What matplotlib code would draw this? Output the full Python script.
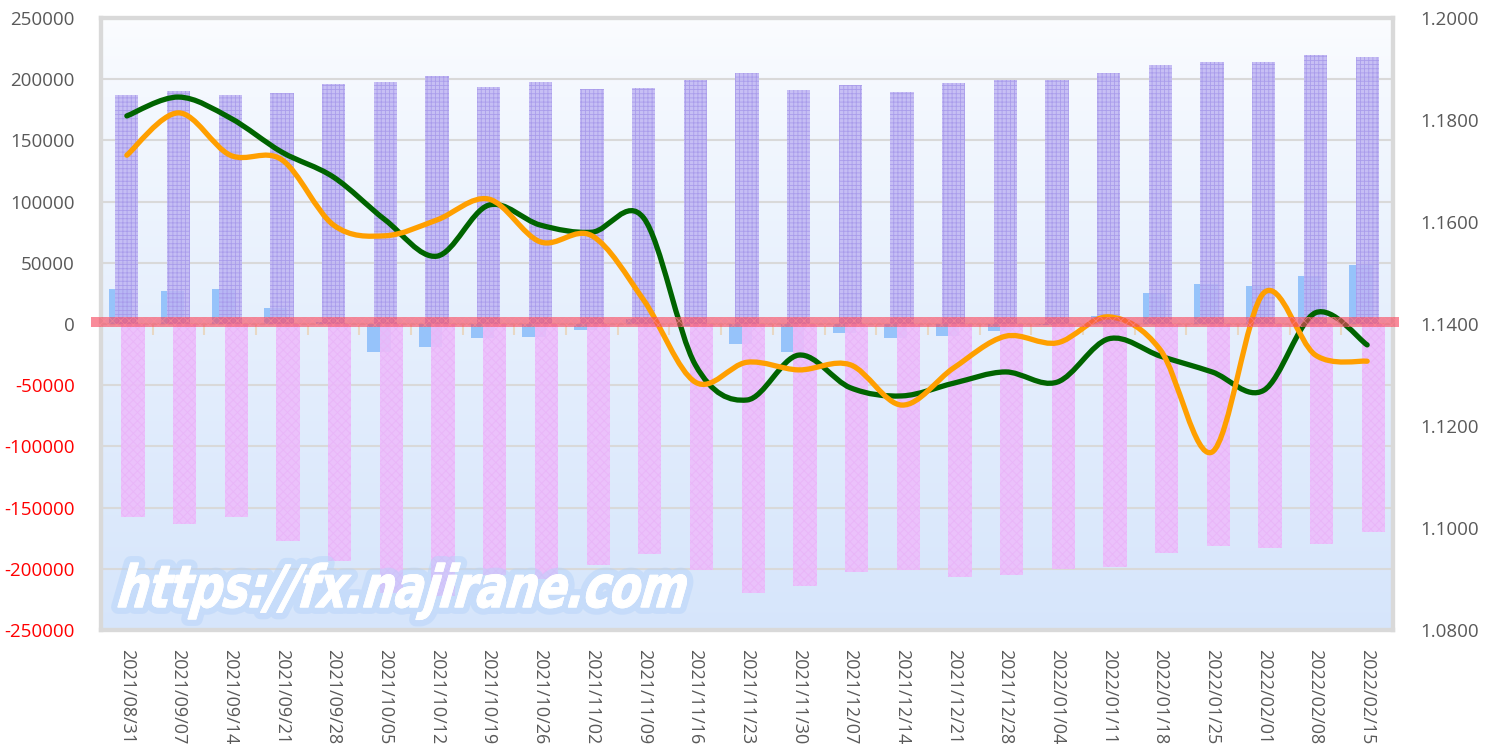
import matplotlib
matplotlib.use('Agg')
import matplotlib.pyplot as plt
import numpy as np
from matplotlib.path import Path
from matplotlib.patches import PathPatch, Rectangle
from matplotlib.transforms import blended_transform_factory, Affine2D, IdentityTransform
from matplotlib.textpath import TextPath
from matplotlib.font_manager import FontProperties
import matplotlib.patheffects as pe

plt.rcParams['font.family'] = ['Open Sans', 'DejaVu Sans']
plt.rcParams['hatch.linewidth'] = 0.6

# weekly dates
dates = ['2021/08/31', '2021/09/07', '2021/09/14', '2021/09/21', '2021/09/28',
         '2021/10/05', '2021/10/12', '2021/10/19', '2021/10/26', '2021/11/02',
         '2021/11/09', '2021/11/16', '2021/11/23', '2021/11/30', '2021/12/07',
         '2021/12/14', '2021/12/21', '2021/12/28', '2022/01/04', '2022/01/11',
         '2022/01/18', '2022/01/25', '2022/02/01', '2022/02/08', '2022/02/15']

# positions (left axis)
long_pos = [187000, 190000, 187000, 189000, 196000, 197500, 203000, 193500, 197500, 192000,
            193000, 199000, 205000, 191000, 195000, 189500, 197000, 199000, 199500, 205000,
            212000, 214000, 214000, 219500, 218500]
short_pos = [-158000, -163000, -158000, -177000, -194000, -220000, -222000, -205000, -208000, -197000,
             -188000, -201000, -220000, -214000, -202500, -201000, -206500, -205000, -200000, -198500,
             -187000, -181000, -183000, -180000, -170000]
net_pos = [29000, 27000, 29000, 13000, 2000, -23000, -19000, -11500, -10500, -5000,
           4000, -2000, -16000, -23000, -7500, -11500, -10000, -6000, -500, 6500,
           25000, 33000, 31000, 39500, 48500]

# rates (right axis)
green_rate = [1.1808, 1.1845, 1.1804, 1.1737, 1.1688, 1.1604, 1.1533, 1.1633, 1.1594, 1.1580,
              1.1608, 1.1320, 1.1251, 1.1339, 1.1275, 1.1259, 1.1284, 1.1306, 1.1286, 1.1371,
              1.1337, 1.1306, 1.1270, 1.1422, 1.1359]
orange_rate = [1.1731, 1.1814, 1.1731, 1.1722, 1.1594, 1.1573, 1.1604, 1.1645, 1.1561, 1.1573,
               1.1447, 1.1286, 1.1325, 1.1310, 1.1320, 1.1241, 1.1314, 1.1376, 1.1363, 1.1414,
               1.1349, 1.1149, 1.1461, 1.1339, 1.1327]

left_ticks = np.arange(-250000, 250001, 50000)
right_ticks = np.arange(1.08, 1.2001, 0.02)


def smooth_path(xs, ys):
    # Excel-like smoothed line: Catmull-Rom converted to cubic Bezier segments
    pts = np.column_stack([xs, ys]).astype(float)
    n = len(pts)
    verts = [pts[0]]
    codes = [Path.MOVETO]
    for i in range(n - 1):
        p0 = pts[i - 1] if i > 0 else pts[i]
        p1 = pts[i]
        p2 = pts[i + 1]
        p3 = pts[i + 2] if i + 2 < n else pts[i + 1]
        c1 = p1 + (p2 - p0) / 6.0
        c2 = p2 - (p3 - p1) / 6.0
        verts += [c1, c2, p2]
        codes += [Path.CURVE4] * 3
    return Path(verts, codes)


fig = plt.figure(figsize=(14.91, 7.46), dpi=100)
ax = fig.add_axes([101 / 1491, 1 - 630 / 746, 1292 / 1491, 612 / 746])
ax2 = ax.twinx()

x = np.arange(len(dates))
w = 0.45

# gradient background
grad = np.linspace(0, 1, 256).reshape(-1, 1)
top = np.array([0.985, 0.99, 1.0])
bot = np.array([0.84, 0.90, 0.985])
img = top + (bot - top) * grad[:, :, None] ** 0.8
ax.imshow(img, extent=[0, 1, 0, 1], transform=ax.transAxes, aspect='auto', zorder=0)

ax.set_xlim(-0.5, len(dates) - 0.5)
ax.set_ylim(-250000, 250000)
ax.set_yticks(left_ticks)
ax.grid(axis='y', color='#d9d9d9', linewidth=1.5, zorder=1)
ax.set_axisbelow(True)

ax.bar(x - 0.12, net_pos, width=w, color='#96c3fa', zorder=2)
ax.bar(x, long_pos, width=w, color='#bfb5f3', edgecolor='#a597ea', hatch='++++',
       linewidth=0, alpha=0.85, zorder=3)
ax.bar(x + 0.12, short_pos, width=w, color='#edbdfb', edgecolor='#e9b4f8', hatch='xxxx',
       linewidth=0, alpha=0.9, zorder=4)

# small category ticks on the zero line
bnd = np.arange(len(dates) + 1) - 0.5
ax.vlines(bnd[1:-1], -9000, 0, color='#e8d8c4', linewidth=1.5, zorder=1.5)

ax2.set_ylim(1.08, 1.20)
ax2.set_yticks(right_ticks)
ax2.set_yticklabels([f'{v:.4f}' for v in right_ticks])

ax2.add_patch(PathPatch(smooth_path(x, green_rate), facecolor='none', edgecolor='#006400',
                        linewidth=3.8, capstyle='round', zorder=5))
ax2.add_patch(PathPatch(smooth_path(x, orange_rate), facecolor='none', edgecolor='#ff9f00',
                        linewidth=3.8, capstyle='round', zorder=6))

# red zero band on top of everything
trans = blended_transform_factory(ax2.transAxes, ax.transData)
ax2.add_patch(Rectangle((-0.008, -2500), 1.013, 8200, transform=trans, clip_on=False,
                        facecolor='#f5465e', edgecolor='#ff8a96', hatch='xxxx', linewidth=0,
                        alpha=0.62, zorder=10))

# ticks and frame
for a in (ax, ax2):
    for s in a.spines.values():
        s.set_color('#d9d9d9')
        s.set_linewidth(3)
    a.tick_params(length=0)

ax.set_xticks(x)
ax.set_xticklabels(dates, rotation=-90, fontsize=13, color='#595959', va='top')
ax.tick_params(axis='x', pad=14)
ax.tick_params(axis='y', pad=19, labelsize=13.5)
ax.set_yticklabels([str(v) for v in left_ticks])
for lbl, v in zip(ax.get_yticklabels(), left_ticks):
    lbl.set_color('#ff0000' if v < 0 else '#595959')
ax2.tick_params(axis='y', pad=20, labelsize=13.5, labelcolor='#595959')

# watermark, squeezed to the width of the original
wm_text = 'https://fx.najirane.com'
wm_font = FontProperties(family='DejaVu Sans', weight='heavy', style='italic')
tp = TextPath((0, 0), wm_text, size=1, prop=wm_font)
ext = tp.get_extents()
h_ref = TextPath((0, 0), 'h', size=1, prop=wm_font).get_extents().y1
sx = 565 / ext.width
sy = 44 / h_ref
wm = Affine2D().translate(-ext.x0, 0).scale(sx, sy).skew_deg(8, 0).translate(118, 746 - 607)
wm_path = wm.transform_path(tp)
fig.add_artist(PathPatch(wm_path, transform=IdentityTransform(), facecolor='white',
                         edgecolor='white', linewidth=0.8, joinstyle='round', zorder=20,
                         path_effects=[pe.withStroke(linewidth=10, foreground=(0.70, 0.82, 0.98, 0.45),
                                                     joinstyle='round', capstyle='round'),
                                       pe.Normal()]))

fig.savefig('out.png', dpi=100)
